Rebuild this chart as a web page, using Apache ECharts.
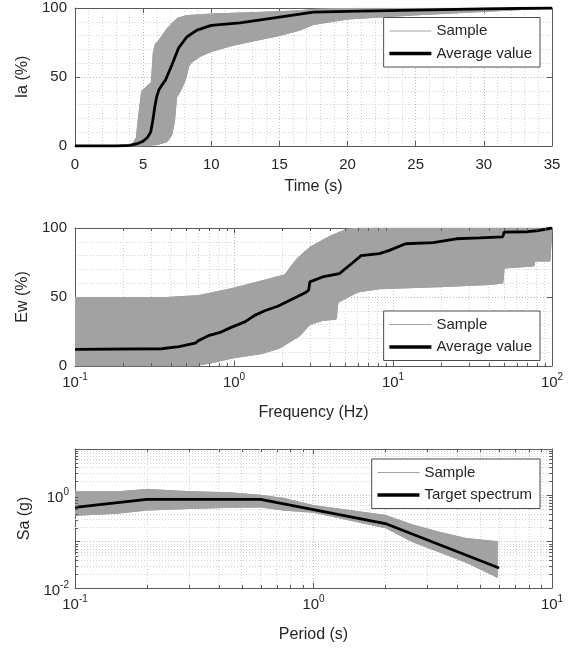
<!DOCTYPE html>
<html><head><meta charset="utf-8">
<script src="https://cdn.jsdelivr.net/npm/echarts@6/dist/echarts.min.js"></script>
<style>html,body{margin:0;padding:0;background:#fff}#c{width:571px;height:653px}</style>
</head><body><div id="c"></div>
<script>
// ---------- Data ----------
// Plot 1: Arias intensity Ia (%) vs time (s)
const iaMeanTime = [0, 3, 4, 4.6, 5.0, 5.3, 5.55, 5.7, 5.85, 6.0, 6.15, 6.4, 6.65, 7.1, 7.6, 8.2, 8.95, 10, 12.1, 14, 16.5, 17.5, 20, 25, 30, 35];
const iaMean     = [0, 0, 0.5, 1.8, 3.5, 6, 10, 18, 28, 36, 40.5, 44.5, 48, 58.5, 71, 79, 84, 87.4, 89.2, 92, 95.5, 97, 97.6, 98.5, 99.3, 100];
const iaUpperTime = [0, 3.3, 4.2, 4.5, 4.65, 4.9, 5.6, 5.75, 5.9, 6.15, 6.75, 7.5, 8.2, 10, 14, 16.5, 17.5, 20, 35];
const iaUpper     = [0, 0, 1, 6, 20, 40, 46, 68, 74, 76.5, 85, 92.5, 94.5, 95.6, 97, 98, 99, 99.7, 100];
const iaLowerTime = [0, 4.8, 6.0, 6.75, 7.1, 7.3, 7.45, 7.8, 8.1, 8.35, 8.6, 9.2, 10, 11.6, 14, 15, 16.5, 17.5, 20, 25, 30, 33, 35];
const iaLower     = [0, 0, 1, 3, 8, 18, 35, 41, 48, 58, 61, 65, 68.5, 73, 78, 80, 84, 88, 92, 95, 97.5, 99, 100];

// Plot 2: Ew (%) vs frequency (Hz)
const ewMeanFreq = [0.1, 0.35, 0.45, 0.57, 0.6, 0.69, 0.83, 0.96, 1.17, 1.35, 1.56, 1.9, 2.35, 2.8, 2.95, 3.0, 3.6, 4.6, 5.6, 6.3, 8.2, 9.5, 12, 17.9, 25, 35, 49, 50, 70, 80, 100];
const ewMean     = [12, 12.5, 14, 16.5, 18.5, 22, 24.6, 28, 32, 36.7, 40, 43.5, 48.8, 53, 55, 61, 64.5, 67, 75, 80, 81.4, 83.8, 88.6, 89.4, 92.2, 92.8, 93.5, 97, 97.3, 98, 100];
const ewUpperFreq = [0.1, 0.36, 0.6, 0.96, 1.42, 2.08, 2.5, 3.0, 4.0, 5.1, 6.2, 100];
const ewUpper     = [49.5, 49.5, 51, 56, 61, 66, 78, 86, 94, 99, 100, 100];
const ewLowerFreq = [0.1, 0.55, 0.7, 1.0, 1.5, 1.94, 2.6, 3.0, 3.6, 4.4, 4.5, 6.0, 8.2, 20, 40, 49, 50, 77, 78, 97, 100];
const ewLower     = [0, 0, 2, 6, 9, 13, 22, 30, 33, 34, 46, 53.6, 56, 57.5, 59, 60, 71, 72.5, 76, 76, 100];

// Plot 3: Sa (g) vs period (s)
const saTargetPeriod = [0.1, 0.2, 0.6, 2, 6];
const saTarget       = [0.55, 0.82, 0.82, 0.246, 0.027];
const saBandPeriod = [0.1, 0.15, 0.2, 0.3, 0.45, 0.6, 0.75, 1.0, 2.0, 2.6, 3.37, 4.36, 5.9];
const saUpper      = [1.19, 1.19, 1.34, 1.2, 1.13, 1.0, 0.86, 0.6, 0.37, 0.23, 0.16, 0.117, 0.1];
const saLower      = [0.37, 0.41, 0.48, 0.52, 0.55, 0.56, 0.48, 0.43, 0.2, 0.1, 0.06, 0.036, 0.017];

const legend1 = ['Sample', 'Average value'];
const legend3 = ['Sample', 'Target spectrum'];

// ---------- Styling ----------
const FONT = '"Liberation Sans", Arial, Helvetica, sans-serif';
const TXT = '#262626';
const AX = '#5a5a5a';
const GRIDC = '#b8b8b8';
const MINC = '#d2d2d2';
const SAMPLE = '#a2a2a2';
const DOT = [1, 2];

function pairs(xs, ys) { return xs.map((x, i) => [x, ys[i]]); }
function minorsLog(e0, e1) { const r = []; for (let e = e0; e < e1; e++) for (let k = 2; k <= 9; k++) r.push(k * Math.pow(10, e)); return r; }

const supRich = {
  b: { fontSize: 15, fontFamily: FONT, color: TXT, lineHeight: 16, padding: [6, 0, 0, 0] },
  s: { fontSize: 10, fontFamily: FONT, color: TXT, lineHeight: 12, verticalAlign: 'top' }
};
function supFmt(v) { const e = Math.round(Math.log10(v)); return '{b|10}{s|' + e + '}'; }

const axLine = { show: true, onZero: false, lineStyle: { color: AX, width: 1 } };
const tick = { show: true, inside: true, length: 5, lineStyle: { color: AX } };

function bottomX(g, type, min, max, interval, name, gap) {
  const a = {
    gridIndex: g, type: type, min: min, max: max, position: 'bottom',
    axisLine: axLine, axisTick: tick,
    splitLine: { show: true, lineStyle: { color: GRIDC, type: DOT } },
    name: name, nameLocation: 'middle', nameGap: gap,
    nameTextStyle: { fontSize: 16, color: TXT, fontFamily: FONT },
    axisLabel: { color: TXT, fontSize: 15, fontFamily: FONT, margin: 11 }
  };
  if (type === 'value') {
    a.interval = interval;
    a.minorTick = { show: false, splitNumber: 5 };
    a.minorSplitLine = { show: true, lineStyle: { color: MINC, type: DOT } };
  } else {
    a.logBase = 10;
    a.axisLabel = { formatter: supFmt, rich: supRich, margin: 6 };
  }
  return a;
}
function topX(g, type, min, max, interval) {
  const a = { gridIndex: g, type: type, min: min, max: max, position: 'top',
    axisLine: axLine, axisTick: tick, axisLabel: { show: false }, splitLine: { show: false } };
  if (type === 'value') a.interval = interval; else a.logBase = 10;
  return a;
}
function leftY(g, type, min, max, interval, name, fmt) {
  const a = {
    gridIndex: g, type: type, min: min, max: max, position: 'left',
    axisLine: axLine, axisTick: tick,
    splitLine: { show: true, lineStyle: { color: GRIDC, type: DOT } },
    name: name, nameLocation: 'middle', nameGap: 41,
    nameTextStyle: { fontSize: 16, color: TXT, fontFamily: FONT },
    axisLabel: { color: TXT, fontSize: 15, fontFamily: FONT, margin: 8 }
  };
  if (type === 'value') {
    a.interval = interval;
    a.minorTick = { show: false, splitNumber: 5 };
    a.minorSplitLine = { show: true, lineStyle: { color: MINC, type: DOT } };
  } else {
    a.logBase = 10;
    a.axisLabel = { formatter: fmt, rich: supRich, margin: 6 };
  }
  return a;
}
function rightY(g, type, min, max, interval) {
  const a = { gridIndex: g, type: type, min: min, max: max, position: 'right',
    axisLine: axLine, axisTick: tick, axisLabel: { show: false }, splitLine: { show: false } };
  if (type === 'value') a.interval = interval; else a.logBase = 10;
  return a;
}

function band(ax, xsU, ysU, xsL, ysL) {
  return {
    type: 'custom', name: 'band', xAxisIndex: ax, yAxisIndex: ax, silent: true, z: 2, clip: true,
    data: [[xsU[0], ysU[0]]],
    renderItem: function (params, api) {
      const pts = [];
      for (let i = 0; i < xsU.length; i++) pts.push(api.coord([xsU[i], ysU[i]]));
      for (let i = xsL.length - 1; i >= 0; i--) pts.push(api.coord([xsL[i], ysL[i]]));
      return { type: 'polygon', shape: { points: pts }, style: { fill: SAMPLE, stroke: SAMPLE, lineWidth: 1 } };
    }
  };
}
function sampleLine(ax, xs, ys) {
  return { type: 'line', name: 'Sample', xAxisIndex: ax, yAxisIndex: ax, data: pairs(xs, ys),
    symbol: 'none', z: 3, silent: true, lineStyle: { color: SAMPLE, width: 1 }, itemStyle: { color: SAMPLE } };
}
function meanLine(ax, name, xs, ys) {
  return { type: 'line', name: name, xAxisIndex: ax, yAxisIndex: ax, data: pairs(xs, ys),
    symbol: 'none', z: 4, silent: true, lineStyle: { color: '#000', width: 2.8 }, itemStyle: { color: '#000' } };
}
function minorGrid(ax, xs, ys) {
  const d = [];
  xs.forEach(v => d.push({ xAxis: v }));
  ys.forEach(v => d.push({ yAxis: v }));
  return { type: 'line', name: 'grid', xAxisIndex: ax, yAxisIndex: ax, data: [], z: 1, silent: true,
    markLine: { z: 1, silent: true, symbol: 'none', animation: false, label: { show: false },
      lineStyle: { color: MINC, type: DOT, width: 1 }, emphasis: { disabled: true }, data: d } };
}
// short minor tick marks on the four sides of a log-scaled grid
function minorTicks(ax, xr, yr, xs, ys) {
  return {
    type: 'custom', name: 'ticks', xAxisIndex: ax, yAxisIndex: ax, silent: true, z: 5, clip: false,
    data: [[xr[0], yr[0]]],
    renderItem: function (params, api) {
      const ch = [], L = 3;
      const st = { stroke: AX, lineWidth: 1 };
      xs.forEach(v => {
        const b = api.coord([v, yr[0]]), t = api.coord([v, yr[1]]);
        const x = Math.round(b[0]) + 0.5;
        ch.push({ type: 'line', shape: { x1: x, y1: b[1], x2: x, y2: b[1] - L }, style: st });
        ch.push({ type: 'line', shape: { x1: x, y1: t[1], x2: x, y2: t[1] + L }, style: st });
      });
      ys.forEach(v => {
        const l = api.coord([xr[0], v]), r = api.coord([xr[1], v]);
        const y = Math.round(l[1]) + 0.5;
        ch.push({ type: 'line', shape: { x1: l[0], y1: y, x2: l[0] + L, y2: y }, style: st });
        ch.push({ type: 'line', shape: { x1: r[0], y1: y, x2: r[0] - L, y2: y }, style: st });
      });
      return { type: 'group', children: ch };
    }
  };
}
function legendAt(top, names) {
  const items = names.map((n, i) => ({ name: n, lineStyle: { width: i === 0 ? 1 : 3.5 } }));
  return { data: items, orient: 'vertical', right: 31, top: top, itemWidth: 42, itemHeight: 13, itemGap: 7.5,
    padding: [6, 8, 6, 4], backgroundColor: '#fff', borderColor: '#4d4d4d', borderWidth: 1,
    itemStyle: { opacity: 0 }, z: 10,
    textStyle: { fontSize: 15, color: TXT, fontFamily: FONT }, selectedMode: false };
}

const option = {
  animation: false,
  backgroundColor: '#fff',
  textStyle: { fontFamily: FONT },
  grid: [
    { left: 75, top: 8, width: 477, height: 138 },
    { left: 75, top: 228, width: 477, height: 138 },
    { left: 75, top: 449, width: 477, height: 139 }
  ],
  xAxis: [
    bottomX(0, 'value', 0, 35, 5, 'Time (s)', 33),
    topX(0, 'value', 0, 35, 5),
    bottomX(1, 'log', 0.1, 100, null, 'Frequency (Hz)', 39),
    topX(1, 'log', 0.1, 100),
    bottomX(2, 'log', 0.1, 10, null, 'Period (s)', 39),
    topX(2, 'log', 0.1, 10)
  ],
  yAxis: [
    leftY(0, 'value', 0, 100, 50, 'Ia (%)'),
    rightY(0, 'value', 0, 100, 50),
    leftY(1, 'value', 0, 100, 50, 'Ew (%)'),
    rightY(1, 'value', 0, 100, 50),
    leftY(2, 'log', 0.01, 10, null, 'Sa (g)', function (v) {
      const e = Math.round(Math.log10(v)); if (e !== -2 && e !== 0) return ''; return '{b|10}{s|' + e + '}';
    }),
    rightY(2, 'log', 0.01, 10)
  ],
  legend: [legendAt(17.5, legend1), legendAt(311, legend1), legendAt(459, legend3)],
  series: [
    band(0, iaUpperTime, iaUpper, iaLowerTime, iaLower),
    sampleLine(0, iaUpperTime, iaUpper),
    sampleLine(0, iaLowerTime, iaLower),
    meanLine(0, 'Average value', iaMeanTime, iaMean),

    minorGrid(2, minorsLog(-1, 2), []),
    band(2, ewUpperFreq, ewUpper, ewLowerFreq, ewLower),
    sampleLine(2, ewUpperFreq, ewUpper),
    sampleLine(2, ewLowerFreq, ewLower),
    meanLine(2, 'Average value', ewMeanFreq, ewMean),
    minorTicks(2, [0.1, 100], [0, 100], minorsLog(-1, 2), []),

    minorGrid(4, minorsLog(-1, 1), minorsLog(-2, 1)),
    band(4, saBandPeriod, saUpper, saBandPeriod, saLower),
    sampleLine(4, saBandPeriod, saUpper),
    sampleLine(4, saBandPeriod, saLower),
    meanLine(4, 'Target spectrum', saTargetPeriod, saTarget),
    minorTicks(4, [0.1, 10], [0.01, 10], minorsLog(-1, 1), minorsLog(-2, 1))
  ]
};
const chart = echarts.init(document.getElementById('c'), null, { renderer: 'canvas' });
chart.setOption(option);
</script></body></html>
